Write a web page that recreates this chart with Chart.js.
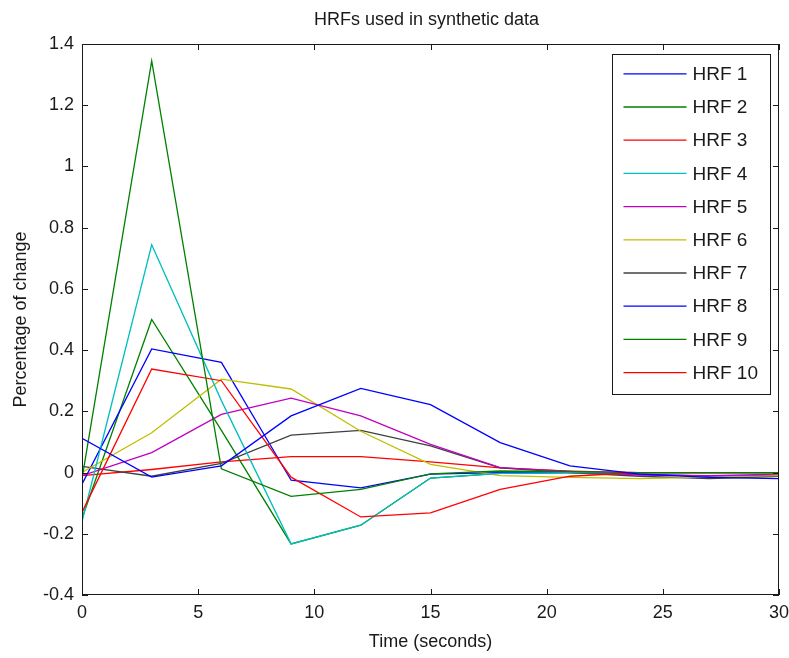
<!DOCTYPE html>
<html>
<head>
<meta charset="utf-8">
<title>HRFs used in synthetic data</title>
<script src="https://cdn.jsdelivr.net/npm/chart.js@4.4.1/dist/chart.umd.min.js"></script>
<style>
  html, body { margin: 0; padding: 0; background: #fff; }
  #wrap { width: 789px; height: 658px; }
</style>
</head>
<body>
<div id="wrap"><canvas id="hrfChart" width="789" height="658"></canvas></div>
<script>
// Sample times (seconds), one sample every 3 s
const timeSec = [0, 3, 6, 9, 12, 15, 18, 21, 24, 27, 30];

// Series values
const hrf1  = [0.112, -0.015, 0.022, 0.185, 0.275, 0.222, 0.098, 0.022, -0.005, -0.016, -0.02];
const hrf2  = [-0.02, 1.345, 0.012, -0.078, -0.055, -0.004, 0.005, 0.003, 0, 0, 0];
const hrf3  = [-0.13, 0.338, 0.30, -0.015, -0.145, -0.132, -0.055, -0.012, 0, 0, 0];
const hrf4  = [-0.16, 0.744, 0.235, -0.233, -0.172, -0.018, -0.003, 0, 0, 0, 0];
const hrf5  = [-0.01, 0.065, 0.19, 0.243, 0.185, 0.092, 0.016, 0.004, -0.008, -0.01, -0.005];
const hrf6  = [0.0, 0.13, 0.305, 0.273, 0.135, 0.027, -0.01, -0.016, -0.02, -0.015, -0.01];
const hrf7  = [0.02, -0.012, 0.03, 0.122, 0.138, 0.087, 0.015, 0.0, -0.012, -0.02, -0.012];
const hrf8  = [-0.038, 0.404, 0.36, -0.025, -0.05, -0.005, 0.0, 0.0, -0.005, -0.012, -0.01];
const hrf9  = [-0.15, 0.5, 0.138, -0.233, -0.172, -0.018, -0.003, 0, 0, 0, 0];
const hrf10 = [-0.01, 0.01, 0.035, 0.052, 0.052, 0.035, 0.015, 0.005, 0, 0, 0];

const seriesNames = ['HRF 1', 'HRF 2', 'HRF 3', 'HRF 4', 'HRF 5', 'HRF 6', 'HRF 7', 'HRF 8', 'HRF 9', 'HRF 10'];
const seriesValues = [hrf1, hrf2, hrf3, hrf4, hrf5, hrf6, hrf7, hrf8, hrf9, hrf10];

// MATLAB's default line colour cycle
const lineColors = ['#0000ff', '#008000', '#ff0000', '#00bfbf', '#bf00bf', '#bfbf00', '#404040'];

const titleText = 'HRFs used in synthetic data';
const xTitle = 'Time (seconds)';
const yTitle = 'Percentage of change';

const FONT = "'Liberation Sans', Arial, Helvetica, sans-serif";
const INK = '#1a1a1a';

const datasets = seriesNames.map((name, i) => ({
    label: name,
    data: timeSec.map((t, j) => ({ x: t, y: seriesValues[i][j] })),
    borderColor: lineColors[i % lineColors.length],
    backgroundColor: lineColors[i % lineColors.length],
    borderWidth: 1.3,
    pointRadius: 0,
    tension: 0,
    fill: false
}));

// box, inward tick marks on all four sides, title and the boxed legend
const matlabLook = {
    id: 'matlabLook',
    afterDraw(chart) {
        const { ctx, chartArea: a, scales: { x, y } } = chart;
        const tick = 6;
        ctx.save();
        ctx.strokeStyle = INK;
        ctx.lineWidth = 1;
        ctx.strokeRect(Math.round(a.left) + 0.5, Math.round(a.top) + 0.5,
            Math.round(a.width) - 1, Math.round(a.height) - 1);
        ctx.beginPath();
        x.ticks.forEach(t => {
            const px = Math.round(x.getPixelForValue(t.value)) + 0.5;
            ctx.moveTo(px, a.bottom); ctx.lineTo(px, a.bottom - tick);
            ctx.moveTo(px, a.top); ctx.lineTo(px, a.top + tick);
        });
        y.ticks.forEach(t => {
            const py = Math.round(y.getPixelForValue(t.value)) + 0.5;
            ctx.moveTo(a.left, py); ctx.lineTo(a.left + tick, py);
            ctx.moveTo(a.right, py); ctx.lineTo(a.right - tick, py);
        });
        ctx.stroke();

        // title over the axes
        ctx.fillStyle = INK;
        ctx.font = '18px ' + FONT;
        ctx.textAlign = 'center';
        ctx.textBaseline = 'middle';
        ctx.fillText(titleText, (a.left + a.right) / 2 - 4, 20);

        // legend box, top right inside the axes
        const rowH = 33.2;
        const boxW = 158;
        const boxH = rowH * chart.data.datasets.length + 8;
        const bx = Math.round(a.right - 9 - boxW) + 0.5;
        const by = Math.round(a.top + 10) + 0.5;
        ctx.fillStyle = '#ffffff';
        ctx.fillRect(bx, by, boxW, boxH);
        ctx.strokeStyle = INK;
        ctx.strokeRect(bx, by, boxW, boxH);
        ctx.textAlign = 'left';
        ctx.font = '19px ' + FONT;
        chart.data.datasets.forEach((ds, i) => {
            const cy = by + 19.3 + i * rowH;
            ctx.strokeStyle = ds.borderColor;
            ctx.lineWidth = 1.3;
            ctx.beginPath();
            ctx.moveTo(bx + 11, cy);
            ctx.lineTo(bx + 74, cy);
            ctx.stroke();
            ctx.fillStyle = INK;
            ctx.fillText(ds.label, bx + 80, cy + 1);
        });
        ctx.restore();
    }
};

const ctx = document.getElementById('hrfChart').getContext('2d');
const hrfChart = new Chart(ctx, {
    type: 'line',
    data: { datasets: datasets },
    options: {
        responsive: false,
        animation: false,
        devicePixelRatio: 1,
        layout: { padding: { top: 44, right: 10, left: 0, bottom: 0 } },
        plugins: {
            legend: { display: false },
            title: { display: false },
            tooltip: { enabled: false }
        },
        scales: {
            x: {
                type: 'linear',
                min: 0,
                max: 30,
                grid: { display: false, drawTicks: false },
                border: { display: false },
                ticks: {
                    stepSize: 5,
                    padding: 7,
                    color: INK,
                    font: { family: FONT, size: 18 }
                },
                title: {
                    display: true,
                    text: xTitle,
                    color: INK,
                    font: { family: FONT, size: 18 },
                    padding: { top: 0, bottom: 5 }
                },
                afterFit(scale) {
                    scale.height = 63;
                    scale.paddingLeft = 0;
                    scale.paddingRight = 0;
                }
            },
            y: {
                min: -0.4,
                max: 1.4,
                grid: { display: false, drawTicks: false },
                border: { display: false },
                ticks: {
                    stepSize: 0.2,
                    padding: 8,
                    color: INK,
                    font: { family: FONT, size: 18 },
                    callback: value => String(+value.toFixed(1))
                },
                title: {
                    display: true,
                    text: yTitle,
                    color: INK,
                    font: { family: FONT, size: 18 },
                    padding: { top: 10, bottom: 0 }
                },
                afterFit(scale) {
                    scale.width = 82;
                    scale.paddingTop = 0;
                    scale.paddingBottom = 0;
                }
            }
        }
    },
    plugins: [matlabLook]
});
</script>
</body>
</html>
